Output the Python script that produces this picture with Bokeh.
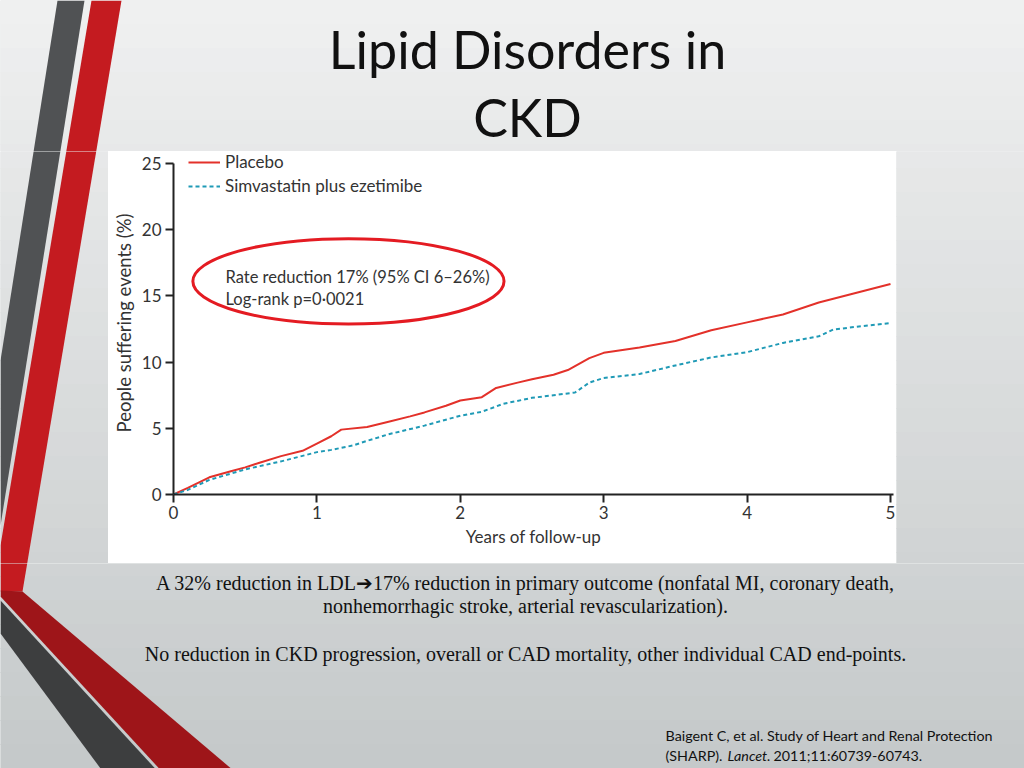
from bokeh.plotting import figure
from bokeh.layouts import column, row
from bokeh.models import Range1d, Label, Legend, LegendItem, FixedTicker
from bokeh.embed import file_html
from bokeh.resources import INLINE

# ---------------- data ----------------
years_placebo = [0, 0.1, 0.25, 0.4, 0.5, 0.6, 0.75, 0.9, 1.0, 1.1, 1.17, 1.35, 1.5,
                 1.65, 1.75, 1.9, 2.0, 2.15, 2.25, 2.4, 2.5, 2.65, 2.75, 2.9, 3.0,
                 3.25, 3.5, 3.75, 4.0, 4.25, 4.5, 4.75, 5.0]
pct_placebo = [0, 0.5, 1.3, 1.75, 2.05, 2.4, 2.9, 3.3, 3.85, 4.4, 4.9, 5.1, 5.5,
               5.9, 6.2, 6.7, 7.1, 7.35, 8.05, 8.45, 8.7, 9.05, 9.4, 10.3, 10.7,
               11.1, 11.6, 12.4, 13.0, 13.6, 14.5, 15.2, 15.9]

years_simva = [0, 0.1, 0.25, 0.5, 0.75, 1.0, 1.1, 1.25, 1.35, 1.5, 1.75, 2.0, 2.15,
               2.3, 2.5, 2.65, 2.8, 2.9, 3.0, 3.25, 3.5, 3.75, 4.0, 4.25, 4.5, 4.6,
               4.75, 5.0]
pct_simva = [0, 0.35, 1.1, 1.9, 2.5, 3.2, 3.37, 3.7, 4.05, 4.55, 5.2, 5.95, 6.25,
             6.85, 7.3, 7.5, 7.7, 8.45, 8.8, 9.1, 9.75, 10.35, 10.75, 11.45, 11.95,
             12.45, 12.65, 12.95]

series_names = ["Placebo", "Simvastatin plus ezetimibe"]
x_ticks = [0, 1, 2, 3, 4, 5]
y_ticks = [0, 5, 10, 15, 20, 25]

title_lines = ["Lipid Disorders in", "CKD"]
stats_lines = ["Rate reduction 17% (95% CI 6\u201326%)", "Log-rank p=0\u00b70021"]
note_lines = [
    "A 32% reduction in LDL\u279417% reduction in primary outcome (nonfatal MI, coronary death,",
    "nonhemorrhagic stroke, arterial revascularization).",
    "No reduction in CKD progression, overall or CAD mortality, other individual CAD end-points.",
]
cite_line1 = "Baigent C, et al. Study of Heart and Renal Protection"
cite_parts2 = ["(SHARP).", "Lancet.", "2011;11:60739-60743."]

# ---------------- layout constants (page pixels) ----------------
W, H = 1024, 768
BOX_L, BOX_R, BOX_T, BOX_B = 108, 896, 151, 563     # white chart panel
AX_L, AX_B = 173, 494                               # chart frame left / bottom
X0_PX, X5_PX = 173, 890                             # pixels of year 0 and year 5
AX_R = 893                                          # frame right (axis line end)
Y_TOP_PX = 163                                      # pixel of y = 25

RED = "#e3312a"
TEAL = "#1f9ab6"
TXT = "#333333"
CHART_FONT = "Lato"

top_c = (0xef, 0xf0, 0xf0)
bot_c = (0xc5, 0xc9, 0xca)
NB = 32


def no_align(f):
    if "frame_align" in f.properties():
        f.frame_align = False
    return f


def deco_figure(x0, x1, y0, y1):
    f = figure(width=x1 - x0, height=y1 - y0, output_backend="svg", toolbar_location=None,
               x_range=Range1d(x0, x1), y_range=Range1d(y1, y0),
               x_axis_location=None, y_axis_location=None, min_border=0)
    no_align(f)
    f.outline_line_color = None
    f.grid.visible = False
    f.border_fill_color = None
    f.background_fill_color = "#e0e3e4"
    for i in range(NB):
        t = i / (NB - 1)
        c = tuple(int(round(a + (b - a) * t)) for a, b in zip(top_c, bot_c))
        col = "#%02x%02x%02x" % c
        f.quad(left=-5, right=W + 5, top=i * H / NB - 0.5, bottom=(i + 1) * H / NB + 0.5,
               fill_color=col, line_color=None)
    f.patch([57, 84, 0, 0], [0, 0, 525, 360], fill_color="#505254", line_color=None)
    f.patch([91, 121, 22, 0, 0], [0, 0, 591, 591, 545], fill_color="#c41b20", line_color=None)
    f.patch([0, 22, 240, 166, 0], [590, 591, 776, 776, 596], fill_color="#9e1519", line_color=None)
    f.patch([0, 162, 106, 0], [600, 776, 776, 633], fill_color="#3d3e3f", line_color=None)
    return f


def text(f, s, x, y, font, size, color, align="left", baseline="middle", style="normal"):
    f.add_layout(Label(x=x, y=y, text=s, text_font=font, text_font_size=size,
                       text_color=color, text_align=align, text_baseline=baseline,
                       text_font_style=style))


# ---- top strip (title) ----
top = deco_figure(0, W, 0, BOX_T)
text(top, title_lines[0], 527, 48, "Lato", "52px", "#111111", align="center")
text(top, title_lines[1], 527, 116, "Lato", "52px", "#111111", align="center")

# ---- middle row ----
left = deco_figure(0, BOX_L, BOX_T, BOX_B)
right = deco_figure(BOX_R, W, BOX_T, BOX_B)

px_per_year = (X5_PX - X0_PX) / 5.0
px_per_unit = (AX_B - Y_TOP_PX) / 25.0
x_end = 5 + (AX_R - X5_PX) / px_per_year
y_end = 25 + (Y_TOP_PX - BOX_T) / px_per_unit

p = figure(width=BOX_R - BOX_L, height=BOX_B - BOX_T, output_backend="svg",
           toolbar_location=None, x_range=Range1d(0, x_end), y_range=Range1d(0, y_end),
           min_border_left=AX_L - BOX_L, min_border_right=BOX_R - AX_R,
           min_border_top=0, min_border_bottom=BOX_B - AX_B)
no_align(p)
p.outline_line_color = None
p.grid.visible = False
p.border_fill_color = "white"
p.background_fill_color = "white"

r1 = p.line(years_placebo, pct_placebo, line_color=RED, line_width=2)
r2 = p.line(years_simva, pct_simva, line_color=TEAL, line_width=2, line_dash="4 3")

p.ellipse(x=1.22, y=16.1, width=2.17, height=6.45, fill_color=None,
          line_color="#e41b22", line_width=3)

for ax in (p.xaxis[0], p.yaxis[0]):
    ax.axis_line_width = 2
    ax.axis_line_color = "#222222"
    ax.major_tick_line_width = 2
    ax.major_tick_line_color = "#222222"
    ax.major_tick_out = 8
    ax.major_tick_in = 0
    ax.minor_tick_line_color = None
    ax.major_label_text_font = CHART_FONT
    ax.major_label_text_font_size = "17px"
    ax.major_label_text_color = TXT
    ax.axis_label_text_font = CHART_FONT
    ax.axis_label_text_font_size = "17px"
    ax.axis_label_text_font_style = "normal"
    ax.axis_label_text_color = TXT
p.yaxis.axis_label_text_font_size = "18.5px"
p.xaxis.ticker = FixedTicker(ticks=x_ticks)
p.yaxis.ticker = FixedTicker(ticks=y_ticks)
p.yaxis.bounds = (0, 25)
p.xaxis.axis_label = "Years of follow-up"
p.yaxis.axis_label = "People suffering events (%)"
p.xaxis.major_label_standoff = 3
p.yaxis.major_label_standoff = 4
p.xaxis.axis_label_standoff = 4
p.yaxis.axis_label_standoff = 4

legend = Legend(items=[LegendItem(label=series_names[0], renderers=[r1]),
                       LegendItem(label=series_names[1], renderers=[r2])],
                location=(15, 298), border_line_color=None, background_fill_alpha=0,
                padding=0, margin=0, spacing=3, glyph_width=32, glyph_height=20,
                label_height=20, label_standoff=5, label_text_font=CHART_FONT,
                label_text_font_size="17px", label_text_color=TXT)
p.add_layout(legend)


def chart_x(px):
    return (px - X0_PX) / px_per_year


def chart_y(py):
    return (AX_B - py) / px_per_unit


text(p, stats_lines[0], chart_x(225), chart_y(276), CHART_FONT, "16.5px", TXT)
text(p, stats_lines[1], chart_x(225), chart_y(298), CHART_FONT, "16.5px", TXT)

# ---- bottom strip ----
bot = deco_figure(0, W, BOX_B, H)
text(bot, note_lines[0], 525, 582, "Liberation Serif", "20px", "#111111", align="center")
text(bot, note_lines[1], 525, 605, "Liberation Serif", "20px", "#111111", align="center")
text(bot, note_lines[2], 525, 653, "Liberation Serif", "20px", "#111111", align="center")
text(bot, cite_line1, 665, 735, "Lato", "14.3px", "#111111")
text(bot, cite_parts2[0], 665, 755, "Lato", "14.3px", "#111111")
text(bot, cite_parts2[1], 727, 755, "Lato", "14.3px", "#111111", style="italic")
text(bot, cite_parts2[2], 773, 755, "Lato", "14.3px", "#111111")

mid = row(left, p, right, spacing=0)
layout = column(top, mid, bot, spacing=0)
open("out.html", "w").write(file_html(layout, INLINE))
